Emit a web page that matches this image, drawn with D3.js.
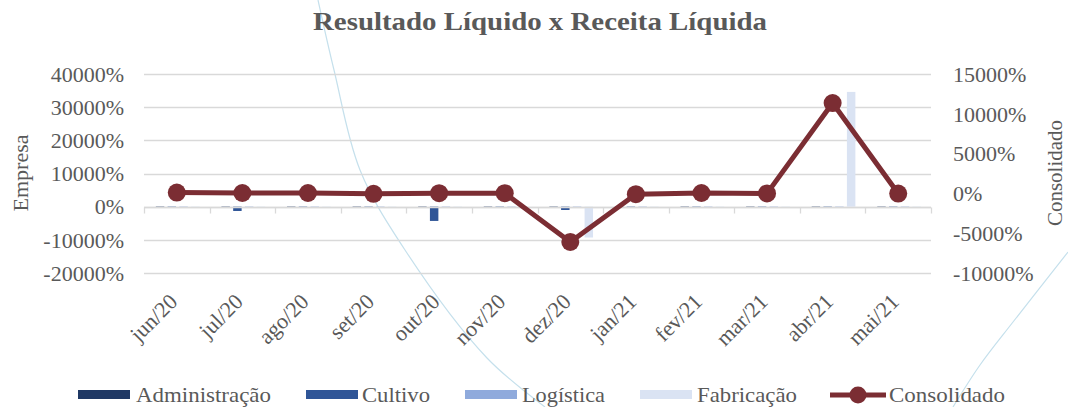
<!DOCTYPE html>
<html>
<head>
<meta charset="utf-8">
<script src="https://cdn.jsdelivr.net/npm/d3@7"></script>
<style>
  html, body { margin: 0; padding: 0; background: #fff; }
  svg { display: block; }
  text { font-family: "Liberation Serif", "DejaVu Serif", serif; fill: #595959; }
</style>
</head>
<body>
<svg id="chart" width="1068" height="407"></svg>
<script>
// ---- data ----
const categories = ["jun/20","jul/20","ago/20","set/20","out/20","nov/20","dez/20","jan/21","fev/21","mar/21","abr/21","mai/21"];
const seriesNames = ["Administração","Cultivo","Logística","Fabricação"];
const administracao = [-150, -100, -120, -100, -150, -120, -200, -100, -80, -100, -150, -100];
const cultivo       = [-200, -1300, -150, -200, -4300, -150, -1000, -200, -150, -150, -200, -150];
const logistica     = [-100, -150, -100, -150, -200, -100, -300, -100, -100, -150, -150, -100];
const fabricacao    = [-250, -300, -250, -300, -300, -250, -9300, -300, -250, -400, 34600, -300];
const consolidado   = [100, 50, 50, -50, 30, 30, -6100, -100, 50, 0, 11350, -20];
const leftTicks  = [-20000, -10000, 0, 10000, 20000, 30000, 40000];
const rightTicks = [-10000, -5000, 0, 5000, 10000, 15000];
const legendNames = ["Administração","Cultivo","Logística","Fabricação","Consolidado"];
const colors = ["#1F3864", "#2F5597", "#8FAADC", "#DAE3F3"];
const lineColor = "#7B2D33";

const barSeries = [administracao, cultivo, logistica, fabricacao];

const svg = d3.select("#chart");

// decorative background arcs (slide background)
const deco = d3.line().curve(d3.curveCatmullRom);
svg.append("path")
  .attr("d", deco([[318,0],[334,70],[360,170],[405,250],[487,358],[545,407]]))
  .attr("fill", "none").attr("stroke", "#C5E0EC").attr("stroke-width", 1.2);
svg.append("path")
  .attr("d", deco([[1068,252],[1013,322],[980,365],[953,407]]))
  .attr("fill", "none").attr("stroke", "#C5E0EC").attr("stroke-width", 1.2);

const left = 144, right = 931;
const x = d3.scaleBand().domain(categories).range([left, right]).padding(0);
const yL = d3.scaleLinear().domain([-20000, 40000]).range([273, 74]);
const yR = d3.scaleLinear().domain([-10000, 15000]).range([273, 74]);
const xs = d3.scaleBand().domain(seriesNames).range([-22.6, 24.4]).paddingInner(0.28).paddingOuter(0.14);

// gridlines
svg.append("g").selectAll("line").data(leftTicks).join("line")
  .attr("x1", left).attr("x2", right)
  .attr("y1", d => Math.round(yL(d)) + 0.5).attr("y2", d => Math.round(yL(d)) + 0.5)
  .attr("stroke", "#D9D9D9").attr("stroke-width", 1.3);

// left axis labels
svg.append("g").selectAll("text").data(leftTicks).join("text")
  .attr("x", 124).attr("y", d => yL(d)).attr("dy", "0.35em")
  .attr("text-anchor", "end").attr("font-size", 22)
  .text(d => (d < 0 ? "-" : "") + Math.abs(d) + "%");

// right axis labels
svg.append("g").selectAll("text").data(rightTicks).join("text")
  .attr("x", 953).attr("y", d => yR(d)).attr("dy", "0.35em")
  .attr("text-anchor", "start").attr("font-size", 22)
  .text(d => (d < 0 ? "-" : "") + Math.abs(d) + "%");

// bars
seriesNames.forEach((s, i) => {
  svg.append("g").selectAll("rect").data(barSeries[i]).join("rect")
    .attr("x", (d, j) => x(categories[j]) + x.bandwidth() / 2 + xs(s))
    .attr("width", xs.bandwidth())
    .attr("y", d => Math.min(yL(d), yL(0)))
    .attr("height", d => Math.max(0.8, Math.abs(yL(d) - yL(0))))
    .attr("fill", colors[i]);
});

// x axis line at 0 with ticks
const x0 = Math.round(yL(0)) + 0.5;
svg.append("line").attr("x1", left).attr("x2", right).attr("y1", x0).attr("y2", x0)
  .attr("stroke", "#D9D9D9").attr("stroke-width", 1.3);
svg.append("g").selectAll("line").data(categories.concat(["__end"])).join("line")
  .attr("x1", (d, i) => Math.round(left + i * x.step()) + 0.5)
  .attr("x2", (d, i) => Math.round(left + i * x.step()) + 0.5)
  .attr("y1", x0).attr("y2", x0 + 6)
  .attr("stroke", "#D9D9D9").attr("stroke-width", 1.3);

// x labels
svg.append("g").selectAll("text").data(categories).join("text")
  .attr("transform", d => `translate(${x(d) + x.bandwidth() / 2 + 2},${303}) rotate(-45)`)
  .attr("text-anchor", "end").attr("font-size", 22)
  .text(d => d);

// consolidado line
const line = d3.line().x((d, i) => x(categories[i]) + x.bandwidth() / 2).y(d => yR(d));
svg.append("path").datum(consolidado).attr("d", line)
  .attr("fill", "none").attr("stroke", lineColor).attr("stroke-width", 5).attr("stroke-linejoin", "round");
svg.append("g").selectAll("circle").data(consolidado).join("circle")
  .attr("cx", (d, i) => x(categories[i]) + x.bandwidth() / 2)
  .attr("cy", d => yR(d)).attr("r", 9).attr("fill", lineColor);

// title
svg.append("text").attr("x", 540).attr("y", 30).attr("text-anchor", "middle")
  .attr("font-size", 26).attr("font-weight", "bold")
  .attr("textLength", 454).attr("lengthAdjust", "spacingAndGlyphs")
  .text("Resultado Líquido x Receita Líquida");

// axis titles
svg.append("text").attr("transform", "translate(28,173) rotate(-90)").attr("text-anchor", "middle")
  .attr("font-size", 22).text("Empresa");
svg.append("text").attr("transform", "translate(1062,173) rotate(-90)").attr("text-anchor", "middle")
  .attr("font-size", 21).text("Consolidado");

// legend
const legendLayout = [
  {type: "rect", color: colors[0], x: 78,  tx: 136, tw: 135},
  {type: "rect", color: colors[1], x: 306, tx: 362, tw: 68},
  {type: "rect", color: colors[2], x: 465, tx: 522, tw: 83},
  {type: "rect", color: colors[3], x: 640, tx: 697, tw: 100},
  {type: "line", color: lineColor, x: 830, tx: 889, tw: 116}
];
const lg = svg.append("g");
legendLayout.forEach((it, i) => {
  const g = lg.append("g");
  if (it.type === "rect") {
    g.append("rect").attr("x", it.x).attr("y", 390).attr("width", 52).attr("height", 9).attr("fill", it.color);
  } else {
    g.append("line").attr("x1", it.x).attr("x2", it.x + 56).attr("y1", 395).attr("y2", 395)
      .attr("stroke", it.color).attr("stroke-width", 5);
    g.append("circle").attr("cx", it.x + 28).attr("cy", 395).attr("r", 8.5).attr("fill", it.color);
  }
  g.append("text").attr("x", it.tx).attr("y", 402).attr("font-size", 22)
    .attr("textLength", it.tw).attr("lengthAdjust", "spacingAndGlyphs").text(legendNames[i]);
});
</script>
</body>
</html>
